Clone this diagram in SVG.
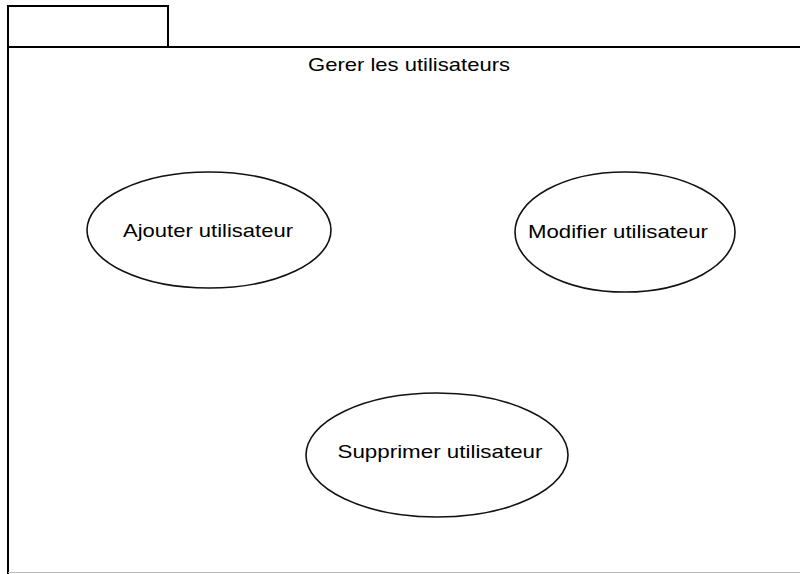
<svg xmlns="http://www.w3.org/2000/svg" width="800" height="574" viewBox="0 0 800 574">
  <style>
    .frame { fill: none; stroke: #000; stroke-width: 2; }
    .usecase ellipse { fill: #fff; stroke: #111; stroke-width: 1.6; }
    text { font-family: "Liberation Sans", Arial, sans-serif; fill: #000; text-anchor: middle; }
    .label { font-size: 19px; }
  </style>
  <rect width="800" height="574" fill="#fff"/>

  <!-- package frame with tab -->
  <g id="package">
    <rect class="frame" x="8" y="6" width="160" height="41"/>
    <path class="frame" d="M8 47 H800 M8 47 V574"/>
    <line x1="8" y1="572.5" x2="800" y2="572.5" stroke="#bbb" stroke-width="1"/>
    <text class="label" x="409" y="71" textLength="202" lengthAdjust="spacingAndGlyphs">Gerer les utilisateurs</text>
  </g>

  <g id="connectors"></g>

  <g id="ajouter" class="usecase">
    <ellipse cx="209" cy="230" rx="122" ry="58"/>
    <text class="label" x="208" y="237" textLength="170" lengthAdjust="spacingAndGlyphs">Ajouter utilisateur</text>
  </g>

  <g id="modifier" class="usecase">
    <ellipse cx="625" cy="232" rx="110" ry="60"/>
    <text class="label" x="618" y="238" textLength="180" lengthAdjust="spacingAndGlyphs">Modifier utilisateur</text>
  </g>

  <g id="supprimer" class="usecase">
    <ellipse cx="437" cy="455" rx="131" ry="62"/>
    <text class="label" x="440" y="458" textLength="205" lengthAdjust="spacingAndGlyphs">Supprimer utilisateur</text>
  </g>
</svg>
